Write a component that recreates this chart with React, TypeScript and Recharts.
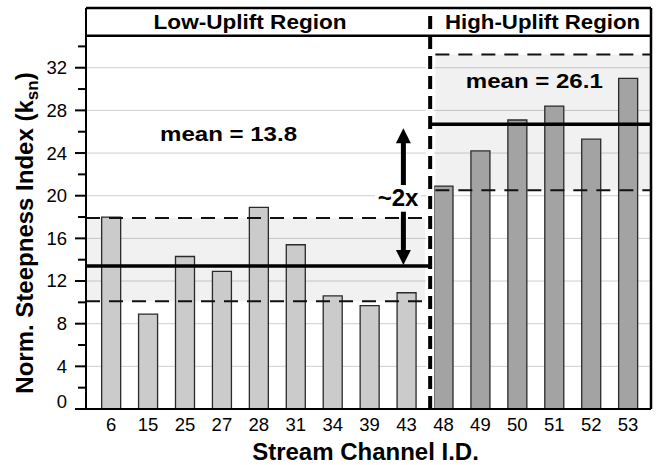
import { BarChart, Bar, Cell, XAxis, YAxis, CartesianGrid, ReferenceLine, ReferenceArea, ReferenceDot } from 'recharts'

const FONT = '"Liberation Sans", Arial, Helvetica, sans-serif'

// stream channel ids: low-uplift region first, then high-uplift region
const channels = ['6', '15', '25', '27', '28', '31', '34', '39', '43', '48', '49', '50', '51', '52', '53']
const lowUplift = [18.0, 8.9, 14.3, 12.9, 18.9, 15.4, 10.6, 9.7, 10.9]
const highUplift = [20.9, 24.2, 27.1, 28.4, 25.3, 31.0]

const yTicks = [0, 2, 4, 6, 8, 10, 12, 14, 16, 18, 20, 22, 24, 26, 28, 30, 32, 34]
const gridValues = [4, 8, 12, 16, 20, 24, 28, 32]

// mean line and spread band of each region
const lowBand = [10.1, 13.4, 17.9]
const highBand = [20.5, 26.7, 33.25]
const lowMeanLabel = 'mean = 13.8'
const highMeanLabel = 'mean = 26.1'

const X_MIN = -0.68
const X_MAX = 14.62
const SPLIT = 8.64
const Y_MAX = 37.6
const HEADER = 35

const values = [...lowUplift, ...highUplift]
const data = channels.map((id, i) => ({ pos: i, id, ksn: values[i], low: i < lowUplift.length }))

function YTick({ x, y, payload }: any) {
  const v = payload.value
  const major = v % 4 === 0
  return (
    <g>
      <line x1={x - (major ? 11 : 8)} x2={x} y1={y} y2={y} stroke="#000" strokeWidth={2} />
      {major && (
        <text x={x - 19} y={v === 0 ? y - 7 : y} dy="0.35em" textAnchor="end" fontSize={18.5} fontFamily={FONT} fill="#000">
          {v}
        </text>
      )}
    </g>
  )
}

function XTick({ x, y, payload }: any) {
  return (
    <text x={x} y={y + 22} textAnchor="middle" fontSize={18.5} fontFamily={FONT} fill="#000">
      {channels[payload.value]}
    </text>
  )
}

function Caption({ viewBox, text, size, length, dx = 0, dy = 0, backdrop }: any) {
  const cx = viewBox.x + viewBox.width / 2 + dx
  const cy = viewBox.y + viewBox.height / 2 + dy
  return (
    <g>
      {backdrop && <rect x={cx - 23} y={cy - 11} width={46} height={22} fill="#fff" />}
      <text
        x={cx}
        y={cy}
        dy="0.35em"
        textAnchor="middle"
        fontWeight="bold"
        fontSize={size}
        fontFamily={FONT}
        fill="#000"
        textLength={length}
        lengthAdjust={length ? 'spacingAndGlyphs' : undefined}
      >
        {text}
      </text>
    </g>
  )
}

const arrowHead = (dir: number) => (p: any) => (
  <path d={`M${p.cx},${p.cy} L${p.cx - 7.5},${p.cy + 15 * dir} L${p.cx + 7.5},${p.cy + 15 * dir} Z`} fill="#000" />
)

export default function App() {
  return (
    <div style={{ position: 'absolute', left: 0, top: 0, background: '#fff' }}>
      <BarChart width={656} height={465} data={data} margin={{ top: 8, right: 5, bottom: 0, left: 0 }}>
        <CartesianGrid vertical={false} horizontalValues={gridValues} stroke="#cfcfcf" strokeWidth={1} />
        <XAxis
          dataKey="pos"
          type="number"
          domain={[X_MIN, X_MAX]}
          ticks={data.map((d) => d.pos)}
          interval={0}
          allowDataOverflow
          height={56}
          tickLine={false}
          tickSize={0}
          tickMargin={0}
          tick={(p: any) => <XTick {...p} />}
          axisLine={{ stroke: '#000', strokeWidth: 2 }}
          label={(p: any) => (
            <text x={p.viewBox.x + p.viewBox.width / 2 - 3} y={p.viewBox.y + 51} textAnchor="middle" fontWeight="bold" fontSize={24} fontFamily={FONT} fill="#000">
              Stream Channel I.D.
            </text>
          )}
        />
        <YAxis
          type="number"
          domain={[0, Y_MAX]}
          ticks={yTicks}
          interval={0}
          allowDataOverflow
          width={86}
          tickLine={false}
          tickSize={0}
          tickMargin={0}
          tick={(p: any) => <YTick {...p} />}
          axisLine={{ stroke: '#000', strokeWidth: 2 }}
          label={(p: any) => {
            const cx = p.viewBox.x + 33
            const cy = p.viewBox.y + p.viewBox.height / 2 + 24.5
            return (
              <text transform={`rotate(-90 ${cx} ${cy})`} x={cx} y={cy} textAnchor="middle" fontWeight="bold" fontSize={24} fontFamily={FONT} fill="#000">
                Norm. Steepness Index (k<tspan fontSize={17} dy={5}>sn</tspan><tspan dy={-5}>)</tspan>
              </text>
            )
          }}
        />

        {/* spread bands */}
        <ReferenceArea x1={X_MIN} x2={8.5} y1={lowBand[0]} y2={lowBand[2]} fill="#000" fillOpacity={0.055} stroke="none" />
        <ReferenceArea x1={8.78} x2={X_MAX} y1={highBand[0]} y2={highBand[2]} fill="#000" fillOpacity={0.055} stroke="none" />

        <Bar dataKey="ksn" barSize={19} stroke="#2a2a2a" strokeWidth={1.3} isAnimationActive={false}>
          {data.map((d) => (
            <Cell key={d.id} fill={d.low ? '#cbcbcb' : '#a3a3a3'} />
          ))}
        </Bar>

        {/* white gap around the region divider */}
        <ReferenceLine x={SPLIT} stroke="#fff" strokeWidth={8} />

        <ReferenceLine segment={[{ x: X_MIN, y: lowBand[0] }, { x: 8.5, y: lowBand[0] }]} stroke="#111" strokeWidth={2} strokeDasharray="14 9" />
        <ReferenceLine segment={[{ x: X_MIN, y: lowBand[2] }, { x: 8.5, y: lowBand[2] }]} stroke="#111" strokeWidth={2} strokeDasharray="14 9" />
        <ReferenceLine segment={[{ x: X_MIN, y: lowBand[1] }, { x: SPLIT, y: lowBand[1] }]} stroke="#000" strokeWidth={3.5} />
        <ReferenceLine segment={[{ x: 8.78, y: highBand[0] }, { x: X_MAX, y: highBand[0] }]} stroke="#111" strokeWidth={2} strokeDasharray="14 9" />
        <ReferenceLine segment={[{ x: 8.78, y: highBand[2] }, { x: X_MAX, y: highBand[2] }]} stroke="#111" strokeWidth={2} strokeDasharray="14 9" />
        <ReferenceLine segment={[{ x: SPLIT, y: highBand[1] }, { x: X_MAX, y: highBand[1] }]} stroke="#000" strokeWidth={3.5} />

        {/* header strip */}
        <ReferenceArea
          x1={X_MIN}
          x2={SPLIT}
          y1={HEADER}
          y2={Y_MAX}
          fill="#fff"
          fillOpacity={1}
          stroke="none"
          label={(p: any) => <Caption {...p} text="Low-Uplift Region" size={20} length={193} dx={-8} dy={0} />}
        />
        <ReferenceArea
          x1={SPLIT}
          x2={X_MAX}
          y1={HEADER}
          y2={Y_MAX}
          fill="#fff"
          fillOpacity={1}
          stroke="none"
          label={(p: any) => <Caption {...p} text="High-Uplift Region" size={20} length={195} dx={2} dy={0} />}
        />
        <ReferenceLine y={HEADER} stroke="#000" strokeWidth={2.5} />
        <ReferenceLine y={Y_MAX} stroke="#000" strokeWidth={2.5} />
        <ReferenceLine x={X_MAX} stroke="#000" strokeWidth={2.5} />
        <ReferenceLine x={SPLIT} stroke="#000" strokeWidth={4} strokeDasharray="13 7" />

        {/* ~2x arrow */}
        <ReferenceLine segment={[{ x: 7.915, y: 25.5 }, { x: 7.915, y: 21.0 }]} stroke="#000" strokeWidth={5} />
        <ReferenceLine segment={[{ x: 7.915, y: 18.5 }, { x: 7.915, y: 14.3 }]} stroke="#000" strokeWidth={5} />
        <ReferenceDot x={7.915} y={26.33} r={0} shape={arrowHead(1)} />
        <ReferenceDot x={7.915} y={13.51} r={0} shape={arrowHead(-1)} />
        <ReferenceDot x={7.77} y={19.79} r={0} fill="none" stroke="none" label={(p: any) => <Caption {...p} text="~2x" size={24} backdrop />} />

        <ReferenceDot x={3.18} y={25.86} r={0} fill="none" stroke="none" label={(p: any) => <Caption {...p} text={lowMeanLabel} size={21} length={137} />} />
        <ReferenceDot x={11.46} y={30.8} r={0} fill="none" stroke="none" label={(p: any) => <Caption {...p} text={highMeanLabel} size={21} length={137} />} />
      </BarChart>
    </div>
  )
}
